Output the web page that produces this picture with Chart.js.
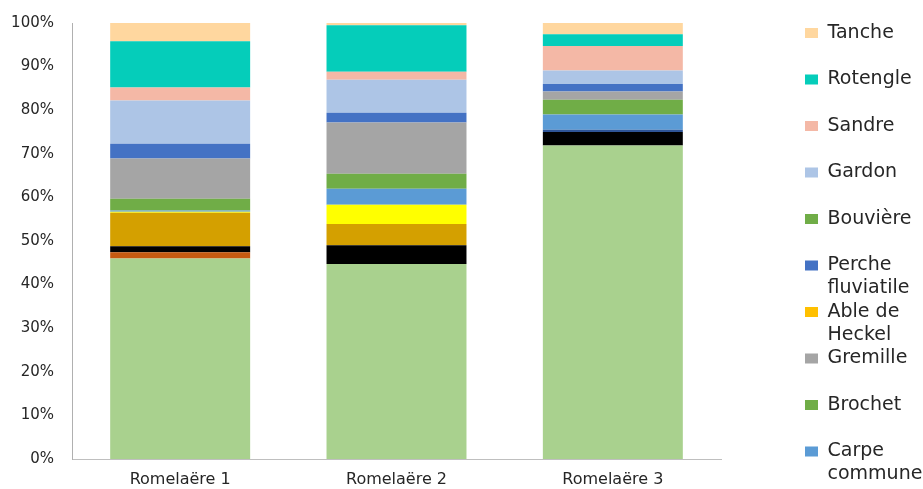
<!DOCTYPE html>
<html>
<head>
<meta charset="utf-8">
<script src="https://cdn.jsdelivr.net/npm/chart.js@4/dist/chart.umd.min.js"></script>
<style>
  body { margin: 0; background: #fff; }
  #wrap { width: 923px; height: 489px; }
</style>
</head>
<body>
<div id="wrap"><canvas id="fishChart" width="923" height="489"></canvas></div>
<script>
// stations
const sites = ["Romelaëre 1", "Romelaëre 2", "Romelaëre 3"];

// parts (%) per espèce, du bas vers le haut de la barre
const ablette      = [46.0, 44.7, 71.9];
const breme        = [1.4, 0, 0];
const poissonChat  = [1.4, 4.3, 3.1];
const carassin     = [7.7, 4.9, 0];
const epinoche     = [0.2, 4.4, 0];
const anguille     = [0, 0, 0.5];
const carpe        = [0.3, 3.7, 3.5];
const brochet      = [2.7, 3.4, 3.4];
const gremille     = [9.2, 11.8, 1.9];
const ableHeckel   = [0, 0, 0];
const perche       = [3.4, 2.2, 1.7];
const bouviere     = [0, 0, 0];
const gardon       = [9.9, 7.6, 3.1];
const sandre       = [3.0, 1.8, 5.6];
const rotengle     = [10.6, 10.7, 2.7];
const tanche       = [4.2, 0.5, 2.6];

const yTicks = [0, 10, 20, 30, 40, 50, 60, 70, 80, 90, 100];

// only these show up in the (truncated) legend
const legendNames = ["Carpe commune", "Brochet", "Gremille", "Able de Heckel", "Perche fluviatile",
                     "Bouvière", "Gardon", "Sandre", "Rotengle", "Tanche"];

const series = [
  ["Ablette", ablette, "#A9D18E"],
  ["Brème", breme, "#C55A11"],
  ["Poisson-chat", poissonChat, "#000000"],
  ["Carassin", carassin, "#D4A000"],
  ["Épinoche", epinoche, "#FFFF00"],
  ["Anguille", anguille, "#2F5597"],
  ["Carpe commune", carpe, "#5B9BD5"],
  ["Brochet", brochet, "#70AD47"],
  ["Gremille", gremille, "#A5A5A5"],
  ["Able de Heckel", ableHeckel, "#FFC000"],
  ["Perche fluviatile", perche, "#4472C4"],
  ["Bouvière", bouviere, "#70AD47"],
  ["Gardon", gardon, "#ADC5E6"],
  ["Sandre", sandre, "#F4B8A6"],
  ["Rotengle", rotengle, "#05CDBA"],
  ["Tanche", tanche, "#FFD79F"]
];

function wrapLabel(txt) {
  if (txt.length > 9 && txt.indexOf(" ") > 0) {
    const i = txt.lastIndexOf(" ");
    return [txt.slice(0, i), txt.slice(i + 1)];
  }
  return [txt, ""];
}

// fixed axis size, no extra padding around the labels
function fixSize(w, h) {
  return axis => {
    if (w !== null) axis.width = w;
    if (h !== null) axis.height = h;
    axis.paddingTop = axis.paddingBottom = 0;
    axis.paddingLeft = axis.paddingRight = 0;
  };
}

const ctx = document.getElementById("fishChart");

new Chart(ctx, {
  type: "bar",
  data: {
    labels: sites,
    datasets: series.map(s => ({
      label: s[0],
      data: s[1],
      backgroundColor: s[2],
      borderWidth: 0,
      barPercentage: 0.647,
      categoryPercentage: 1
    }))
  },
  options: {
    responsive: false,
    animation: false,
    layout: { padding: { top: 23, left: 11, right: 0.5, bottom: 0 } },
    plugins: {
      tooltip: { enabled: false },
      legend: {
        position: "right",
        align: "start",
        reverse: true,
        maxWidth: 118,
        labels: {
          boxWidth: 13,
          boxHeight: 10,
          padding: 0.5,
          color: "#262626",
          font: { family: "DejaVu Sans", size: 19, lineHeight: 23 / 19 },
          generateLabels(chart) {
            const items = Chart.defaults.plugins.legend.labels.generateLabels(chart);
            return items
              .filter(it => legendNames.includes(it.text))
              .map(it => Object.assign(it, { text: wrapLabel(it.text) }));
          }
        }
      }
    },
    scales: {
      x: {
        stacked: true,
        grid: { display: false, drawTicks: false },
        border: { display: true, color: "#BFBFBF", width: 1 },
        afterFit: fixSize(null, 30),
        ticks: {
          padding: 11,
          color: "#262626",
          font: { family: "DejaVu Sans", size: 16 }
        }
      },
      y: {
        stacked: true,
        min: 0,
        max: 100,
        grid: { display: false, drawTicks: false },
        border: { display: true, color: "#B0B0B0", width: 1 },
        afterBuildTicks: axis => { axis.ticks = yTicks.map(v => ({ value: v })); },
        afterFit: fixSize(61, null),
        ticks: {
          padding: 18,
          color: "#262626",
          font: { family: "DejaVu Sans", size: 15 },
          callback: v => v + "%"
        }
      },
      // empty axis that keeps the gap between plot and legend
      gap: {
        type: "linear",
        position: "right",
        display: true,
        grid: { display: false, drawTicks: false },
        border: { display: false },
        ticks: { display: false },
        afterFit: fixSize(83.5, null)
      }
    }
  }
});
</script>
</body>
</html>
